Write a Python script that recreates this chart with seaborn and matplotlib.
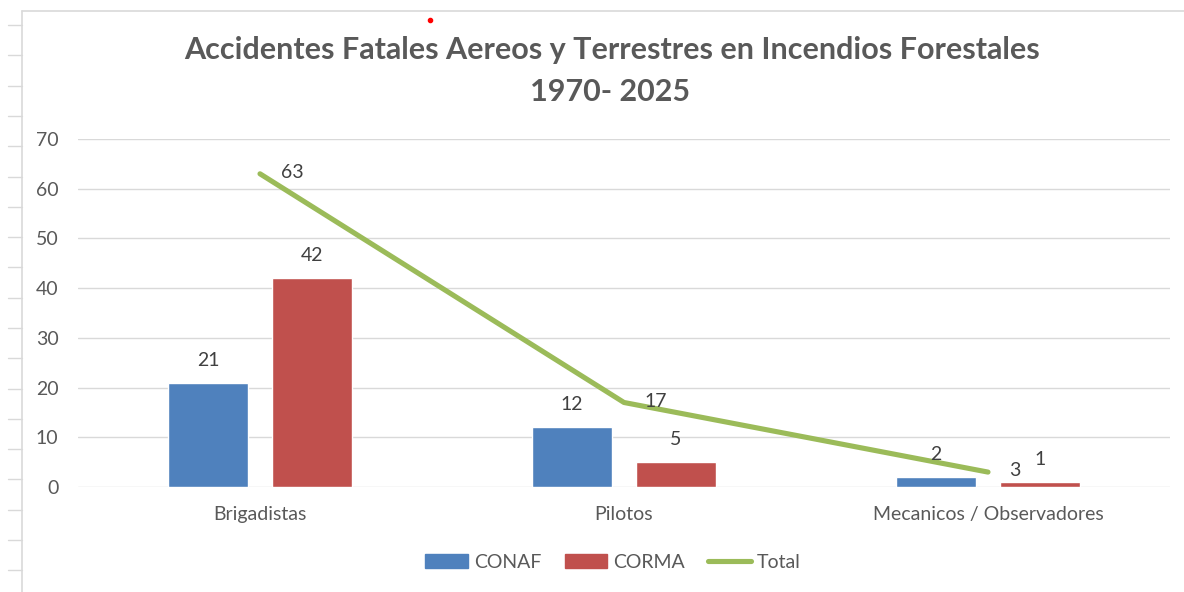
import numpy as np
import pandas as pd
import matplotlib
matplotlib.use("Agg")
import matplotlib.pyplot as plt
import seaborn as sns
from matplotlib.lines import Line2D
from matplotlib.patches import Patch

categories = ["Brigadistas", "Pilotos", "Mecanicos / Observadores"]
conaf = [21, 12, 2]
corma = [42, 5, 1]
total = [63, 17, 3]
yticks = [0, 10, 20, 30, 40, 50, 60, 70]
title_l1 = "Accidentes Fatales Aereos y Terrestres en Incendios Forestales"
title_l2 = "1970- 2025"

BLUE = "#4F81BD"
RED = "#C0504D"
GREEN = "#9BBB59"
TXT = "#595959"
LBL = "#404040"
GRID = "#D9D9D9"

sns.set_theme(style="white")
plt.rcParams["font.family"] = ["Lato", "DejaVu Sans"]

df = pd.DataFrame({
    "cat": categories * 2,
    "serie": ["CONAF"] * 3 + ["CORMA"] * 3,
    "val": conaf + corma,
})

fig = plt.figure(figsize=(11.84, 5.92), dpi=100)
ax = fig.add_axes([78 / 1184, 1 - 487 / 592, (1170 - 78) / 1184, (487 - 139) / 592])

sns.barplot(data=df, x="cat", y="val", hue="serie", palette=[BLUE, RED],
            width=0.572, gap=0.223, ax=ax, legend=False, saturation=1)
sns.lineplot(x=np.arange(len(categories)), y=total, color=GREEN, linewidth=3.7,
             ax=ax, legend=False, solid_capstyle="round")

ax.set_xlim(-0.5, 2.5)
ax.set_ylim(0, 70)
ax.set_yticks(yticks)
ax.set_yticklabels([str(v) for v in yticks])
ax.yaxis.grid(True, color=GRID, linewidth=1)
ax.set_axisbelow(True)
for s in ax.spines.values():
    s.set_visible(False)
ax.tick_params(axis="both", length=0, labelsize=14, labelcolor=TXT)
ax.tick_params(axis="y", pad=14)
ax.tick_params(axis="x", pad=14)
ax.set_xlabel("")
ax.set_ylabel("")

# bar labels
for cont in ax.containers:
    ax.bar_label(cont, labels=[str(int(v)) for v in cont.datavalues],
                 padding=10, fontsize=14, color=LBL)
# line labels (to the right)
for i, v in enumerate(total):
    ax.annotate(str(v), (i, v), xytext=(15, 1), textcoords="offset points",
                ha="left", va="center", fontsize=14, color=LBL)

fig.text(612 / 1184, 1 - 50 / 592, title_l1, ha="center", va="center",
         fontsize=22, fontweight="bold", color=TXT)
fig.text(610 / 1184, 1 - 92 / 592, title_l2, ha="center", va="center",
         fontsize=22, fontweight="bold", color=TXT)

handles = [Patch(facecolor=BLUE, edgecolor=BLUE), Patch(facecolor=RED, edgecolor=RED),
           Line2D([0], [0], color=GREEN, linewidth=3.7)]
fig.legend(handles, ["CONAF", "CORMA", "Total"], loc="center",
           bbox_to_anchor=(613 / 1184, 1 - 562 / 592), ncol=3, frameon=False,
           fontsize=14, labelcolor=TXT, handlelength=2.2, handleheight=0.75,
           columnspacing=1.2, handletextpad=0.3)

# worksheet frame artifacts
fig.add_artist(Line2D([22 / 1184, 22 / 1184], [0, 1 - 11 / 592], color=GRID, linewidth=1.2))
fig.add_artist(Line2D([22 / 1184, 1], [1 - 11 / 592, 1 - 11 / 592], color=GRID, linewidth=1.2))
for y in np.arange(25, 592, 30.3):
    fig.add_artist(Line2D([8 / 1184, 22 / 1184], [1 - y / 592, 1 - y / 592], color=GRID, linewidth=1))
fig.add_artist(Line2D([430 / 1184], [1 - 20 / 592], marker="o", markersize=3,
                      color="#FF0000", linestyle="none"))

fig.savefig("out.png", dpi=100)
